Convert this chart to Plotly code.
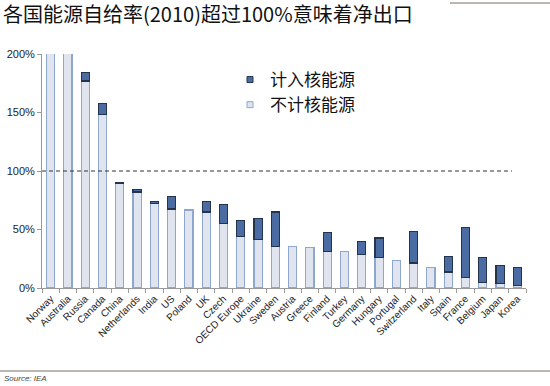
import plotly.graph_objects as go

countries = ["Norway", "Australia", "Russia", "Canada", "China", "Netherlands", "India", "US",
             "Poland", "UK", "Czech", "OECD Europe", "Ukraine", "Sweden", "Austria", "Greece",
             "Finland", "Turkey", "Germany", "Hungary", "Portugal", "Switzerland", "Italy",
             "Spain", "France", "Belgium", "Japan", "Korea"]
# self-sufficiency excluding nuclear (%)
excl_nuclear = [650, 240, 177, 148, 89, 82, 72.4, 67.5,
                66.7, 65, 55, 44.3, 41.4, 35.7, 35.4, 34.3,
                31.2, 30.9, 28.6, 26.4, 23.6, 21.3, 17.3,
                13.6, 8.7, 5, 4.1, 1.9]
# self-sufficiency including nuclear (%)
incl_nuclear = [650, 240, 184, 158, 90, 84, 73.8, 78,
                66.7, 73.7, 71.7, 57.7, 59.4, 65, 35.4, 34.3,
                47.4, 30.9, 39.9, 42.8, 23.6, 48.2, 17.3,
                26.7, 51.6, 26.1, 19.3, 17.6]
nuclear_part = [round(a - b, 2) if a - b > 0 else None for a, b in zip(incl_nuclear, excl_nuclear)]
y_ticks = [0, 50, 100, 150, 200]

L, T, W, H = 42, 54, 484, 234

def px(x):
    return (x - L) / W

def py(y):
    return (T + H - y) / H

LIGHT, LIGHT_LINE = "#dfe4ee", "#8ea7cf"
DARK, DARK_LINE = "#4a6ca2", "#24344c"

fig = go.Figure()
fig.add_trace(go.Bar(
    x=countries, y=excl_nuclear, name="不计核能源", showlegend=False,
    marker=dict(color=LIGHT, line=dict(color=LIGHT_LINE, width=1.2)),
    width=0.47,
))
fig.add_trace(go.Bar(
    x=countries, y=nuclear_part, name="计入核能源", showlegend=False,
    marker=dict(color=DARK, line=dict(color=DARK_LINE, width=1.2)),
    width=0.47,
))
# legend entries
fig.add_trace(go.Scatter(x=[None], y=[None], mode="markers", name="计入核能源",
                         marker=dict(symbol="square", size=6, color=DARK, line=dict(color=DARK_LINE, width=1))))
fig.add_trace(go.Scatter(x=[None], y=[None], mode="markers", name="不计核能源",
                         marker=dict(symbol="square", size=6, color=LIGHT, line=dict(color=LIGHT_LINE, width=1))))

fig.add_shape(type="line", xref="paper", yref="y", x0=0, x1=px(512), y0=100, y1=100,
              line=dict(color="#333333", width=1, dash="4px,3px"))
fig.add_shape(type="line", xref="paper", yref="paper", x0=px(450), x1=px(550), y0=py(3), y1=py(3),
              line=dict(color="#a39f9a", width=1.5))
fig.add_shape(type="line", xref="paper", yref="paper", x0=px(0), x1=px(550), y0=py(371), y1=py(371),
              line=dict(color="#a39f9a", width=1.5))

fig.add_annotation(text="各国能源自给率(2010)超过100%意味着净出口", xref="paper", yref="paper",
                   x=px(1), y=py(14), xanchor="left", yanchor="middle", showarrow=False,
                   font=dict(family="Noto Sans CJK SC", size=20, color="#111111"))
fig.add_annotation(text="<i>Source: IEA</i>", xref="paper", yref="paper",
                   x=px(2), y=py(378), xanchor="left", yanchor="middle", showarrow=False,
                   font=dict(family="Liberation Sans, Arial", size=8, color="#444444"))

fig.update_layout(
    width=550, height=386,
    margin=dict(l=L, r=550 - L - W, t=T, b=386 - T - H, autoexpand=False),
    barmode="stack",
    plot_bgcolor="white", paper_bgcolor="white",
    showlegend=True,
    legend=dict(x=px(230), y=py(62), xanchor="left", yanchor="top",
                bgcolor="rgba(0,0,0,0)", traceorder="normal",
                font=dict(family="Noto Sans CJK SC", size=17, color="#111111"),
                itemwidth=30, tracegroupgap=0),
    font=dict(family="Liberation Sans, Arial", color="#333333"),
)
fig.update_xaxes(
    type="category", showline=True, linecolor="#9a9a9a", linewidth=1,
    ticks="outside", tickson="boundaries", ticklen=4, tickcolor="#9a9a9a",
    tickangle=-45, tickfont=dict(size=10, color="#222222"), showgrid=False,
    automargin=False, range=[-0.5, 27.5],
)
fig.update_yaxes(
    range=[0, 200], tickvals=y_ticks, ticktext=[f"{v}%" for v in y_ticks],
    showline=True, linecolor="#9a9a9a", linewidth=1, ticks="outside", ticklen=4,
    tickcolor="#9a9a9a", tickfont=dict(size=11, color="#222222"), showgrid=False,
    zeroline=False, automargin=False,
)

fig.write_html("out.html", config={"displayModeBar": False},
               post_script="document.body.style.margin='0';document.body.style.overflow='hidden';")
